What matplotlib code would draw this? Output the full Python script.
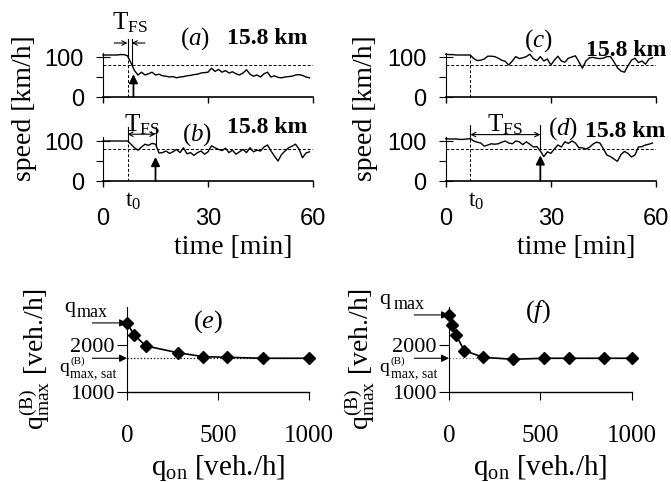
import numpy as np
import matplotlib
matplotlib.use('Agg')
import matplotlib.pyplot as plt

plt.rcParams['font.family'] = 'Liberation Serif'
plt.rcParams['mathtext.fontset'] = 'custom'
plt.rcParams['mathtext.rm'] = 'Liberation Serif'
plt.rcParams['mathtext.it'] = 'Liberation Serif:italic'
plt.rcParams['mathtext.bf'] = 'Liberation Serif:bold'

# speed time series at 15.8 km, one value per minute
minutes = np.arange(60)
speed_a = [105, 105, 105, 105, 105, 106, 106, 103, 85, 66, 55, 62, 55, 58, 62, 55, 57, 53, 52, 50,
           51, 48, 50, 51, 53, 54, 56, 57, 60, 61, 62, 72, 64, 69, 62, 66, 60, 63, 58, 55,
           60, 68, 57, 52, 55, 50, 58, 62, 50, 53, 49, 48, 50, 51, 52, 55, 56, 54, 50, 48]
speed_b = [100, 100, 100, 100, 100, 100, 100, 100, 92, 83, 77, 85, 92, 89, 94, 92, 70, 71, 75, 69,
           73, 79, 71, 83, 68, 71, 64, 71, 75, 67, 73, 88, 83, 79, 76, 82, 71, 77, 67, 73,
           79, 71, 83, 73, 77, 75, 85, 90, 75, 62, 50, 66, 75, 83, 87, 92, 80, 58, 70, 73]
speed_c = [107, 106, 106, 105, 105, 105, 105, 105, 96, 91, 92, 95, 102, 102, 101, 97, 92, 89, 80, 90,
           101, 96, 98, 101, 107, 96, 91, 101, 90, 95, 80, 92, 102, 90, 87, 97, 100, 103, 88, 72,
           90, 98, 99, 97, 96, 97, 101, 101, 88, 73, 65, 62, 78, 92, 97, 86, 90, 82, 95, 98]
speed_d = [106, 105, 105, 105, 104, 104, 105, 106, 100, 97, 95, 87, 90, 93, 92, 93, 97, 100, 95, 93,
           100, 98, 91, 98, 92, 85, 86, 75, 61, 73, 69, 80, 90, 85, 98, 94, 100, 95, 83, 83,
           80, 84, 92, 97, 95, 80, 65, 61, 55, 49, 66, 74, 69, 60, 65, 85, 86, 90, 92, 95]

t0 = 7
v_threshold = 80
# end of T_FS and breakdown arrow (time, arrow tip speed)
tfs_end_a, tfs_end_b, tfs_end_d = 8.2, 15, 27
arrow_a, arrow_b, arrow_d = (8.7, 57), (15, 60), (27, 64)

# maximum bottleneck flow vs on-ramp flow
q_on_e = [0, 40, 104, 278, 419, 548, 745, 1000]
q_max_e = [2465, 2210, 1980, 1837, 1752, 1738, 1718, 1718]
q_on_f = [0, 16, 38, 84, 188, 349, 522, 659, 849, 1000]
q_max_f = [2640, 2426, 2213, 1880, 1738, 1696, 1718, 1718, 1718, 1718]
qmax_e, qsat_e = 2470, 1718
qmax_f, qsat_f = 2640, 1718

W, H = 671, 482
fig = plt.figure(figsize=(W / 100, H / 100), dpi=100)


def rect(x0, x1, ybot, ytop):
    return [x0 / W, 1 - ybot / H, (x1 - x0) / W, (ybot - ytop) / H]


def speed_axes(r, speed, show_xlabels):
    ax = fig.add_axes(r)
    ax.plot(minutes, speed, color='black', lw=1.0, clip_on=False)
    ax.plot([0, 60], [v_threshold, v_threshold], 'k--', lw=0.7, dashes=(3, 2))
    ax.plot([t0, t0], [0, speed[t0]], 'k--', lw=0.7, dashes=(3, 2))
    ax.set_xlim(0, 60)
    ax.set_ylim(0, 110)
    for s in ['top', 'right']:
        ax.spines[s].set_visible(False)
    ax.spines['left'].set_linewidth(0.8)
    ax.spines['bottom'].set_linewidth(1.2)
    ax.set_yticks([0, 100])
    ax.set_yticklabels(['0', '100'], fontfamily='Liberation Sans', fontsize=17)
    ax.set_yticks([50], minor=True)
    ax.tick_params(axis='y', which='major', direction='inout', length=9.5, width=0.8, pad=9)
    ax.tick_params(axis='y', which='minor', direction='out', length=4.8, width=0.8)
    ax.set_xticks([0, 30, 60])
    if show_xlabels:
        ax.set_xticklabels(['0', '30', '60'], fontfamily='Liberation Sans', fontsize=17)
    else:
        ax.set_xticklabels([])
    ax.tick_params(axis='x', direction='out', length=4.5, width=1.0, pad=15)
    return ax


def up_arrow(ax, pos):
    ax.annotate('', xy=pos, xytext=(pos[0], 0), annotation_clip=False,
                arrowprops=dict(arrowstyle='-|>', color='black', lw=1.3,
                                mutation_scale=13, shrinkA=0, shrinkB=0))


def tfs_marks(ax, t_end, v_left, v_right, y_arrow, y_top, label_xy):
    ax.plot([t0, t0], [v_left, y_top], color='black', lw=0.8, clip_on=False)
    ax.plot([t_end, t_end], [v_right, y_top], color='black', lw=0.8, clip_on=False)
    ax.annotate('', xy=(t_end, y_arrow), xytext=(t0, y_arrow), annotation_clip=False,
                arrowprops=dict(arrowstyle='<->', color='black', lw=0.8,
                                mutation_scale=8, shrinkA=0, shrinkB=0))
    ax.text(*label_xy, 'T$_{\\rm FS}$', ha='center', va='center', fontsize=18, clip_on=False)


ax_a = speed_axes(rect(103, 313, 97, 53), speed_a, False)
ax_b = speed_axes(rect(103, 313, 181, 137), speed_b, True)
ax_c = speed_axes(rect(445.7, 656, 97, 53), speed_c, False)
ax_d = speed_axes(rect(445.7, 656, 181, 137), speed_d, True)

# (a): short T_FS marked by two inward arrows
ax_a.plot([t0, t0], [speed_a[t0], 145], color='black', lw=0.8, clip_on=False)
ax_a.plot([tfs_end_a, tfs_end_a], [80, 145], color='black', lw=0.8, clip_on=False)
for x_from, x_to in [(3.2, t0), (12.0, tfs_end_a)]:
    ax_a.annotate('', xy=(x_to, 135), xytext=(x_from, 135), annotation_clip=False,
                  arrowprops=dict(arrowstyle='->', color='black', lw=0.8,
                                  mutation_scale=8, shrinkA=0, shrinkB=0))
ax_a.text(7.7, 186, 'T$_{\\rm FS}$', ha='center', va='center', fontsize=18, clip_on=False)
up_arrow(ax_a, arrow_a)

tfs_marks(ax_b, tfs_end_b, speed_b[t0], 88, 117, 134, (11, 140))
up_arrow(ax_b, arrow_b)
tfs_marks(ax_d, tfs_end_d, speed_d[t0], 79, 116, 140, (17, 140))
up_arrow(ax_d, arrow_d)

for ax, letter, lxy, kxy in [(ax_a, 'a', (26.3, 145), (47, 146)),
                             (ax_b, 'b', (26.9, 117), (47, 134)),
                             (ax_c, 'c', (26.4, 140), (51.5, 117)),
                             (ax_d, 'd', (33.5, 132), (51.3, 124))]:
    ax.text(*lxy, '($%s$)' % letter, ha='center', va='center', fontsize=18, clip_on=False)
    ax.text(*kxy, '15.8 km', ha='center', va='center', fontsize=17,
            fontweight='bold', clip_on=False)

for ax in [ax_b, ax_d]:
    ax.text(8.6, -51, 't$_0$', ha='center', va='center', fontsize=17, clip_on=False)

for xc in [25, 365]:
    fig.text(xc / W, 1 - 108 / H, 'speed [km/h]', rotation=90, ha='center', va='center',
             fontsize=20)
for xc in [233, 576]:
    fig.text(xc / W, 1 - 248 / H, 'time [min]', ha='center', va='center', fontsize=20)


def flow_axes(r, q_on, q_max, qmax, qsat, letter, lxy, dot_color):
    ax = fig.add_axes(r)
    ax.plot([0, 1000], [qsat, qsat], linestyle=':', color=dot_color, lw=0.9)
    ax.plot(q_on, q_max, color='black', lw=1.2, marker='D', markersize=6,
            clip_on=False, zorder=3)
    ax.set_xlim(0, 1000)
    ax.set_ylim(1000, 2800)
    for s in ['top', 'right']:
        ax.spines[s].set_visible(False)
    ax.spines['left'].set_linewidth(0.8)
    ax.spines['bottom'].set_linewidth(1.0)
    ax.set_xticks([0, 500, 1000])
    ax.set_xticklabels(['0', '500', '1000'], fontsize=18)
    ax.tick_params(axis='x', direction='out', length=5.5, width=0.8, pad=18)
    ax.set_yticks([1000, 2000])
    ax.set_yticklabels(['1000', '2000'], fontsize=16)
    ax.tick_params(axis='y', direction='out', length=7, width=0.8, pad=2)
    for level in [qmax, qsat]:
        ax.annotate('', xy=(0, level), xytext=(-25, 0), textcoords='offset points',
                    annotation_clip=False,
                    arrowprops=dict(arrowstyle='-|>', color='black', lw=0.8,
                                    mutation_scale=11, shrinkA=0, shrinkB=0))
    ax.text(*lxy, '($%s$)' % letter, ha='center', va='center', fontsize=19)
    return ax


def side_text(ax, level, s, dx, dy, size, ha='left'):
    ax.annotate(s, xy=(0, level), xytext=(dx, dy), textcoords='offset points',
                ha=ha, va='baseline', fontsize=size, annotation_clip=False)


ax_e = flow_axes(rect(127, 309, 392, 307.4), q_on_e, q_max_e, qmax_e, qsat_e, 'e',
                 (445, 2489), 'black')
ax_f = flow_axes(rect(449, 631.7, 392, 307.4), q_on_f, q_max_f, qmax_f, qsat_f, 'f',
                 (487, 2702), 'gray')

# arrow labels: q_max at the top, q_max,sat^(B) at the saturation level
side_text(ax_e, qmax_e, 'q', -41, 8, 16, ha='center')
side_text(ax_e, qmax_e, 'max', -36, 4, 13)
side_text(ax_e, qsat_e, 'q', -45.5, -10, 14, ha='center')
side_text(ax_e, qsat_e, '(B)', -41, -4, 8)
side_text(ax_e, qsat_e, 'max, sat', -41, -14, 10)

side_text(ax_f, qmax_f, 'q', -46, 8, 16, ha='center')
side_text(ax_f, qmax_f, 'max', -40, 4, 13)
side_text(ax_f, qsat_f, 'q', -46.5, -10, 14, ha='center')
side_text(ax_f, qsat_f, '(B)', -42, -4, 8)
side_text(ax_f, qsat_f, 'max, sat', -42, -14, 10)

for xc in [35, 360]:
    fig.text(xc / W, 1 - 359 / H, 'q$_{\\rm max}^{\\rm (B)}$ [veh./h]', rotation=90,
             ha='center', va='center', fontsize=20)
for xc in [218, 540]:
    fig.text(xc / W, 1 - 475 / H, 'q$_{\\rm on}$ [veh./h]', ha='center', va='baseline',
             fontsize=21)

fig.savefig('out.png', dpi=100)
